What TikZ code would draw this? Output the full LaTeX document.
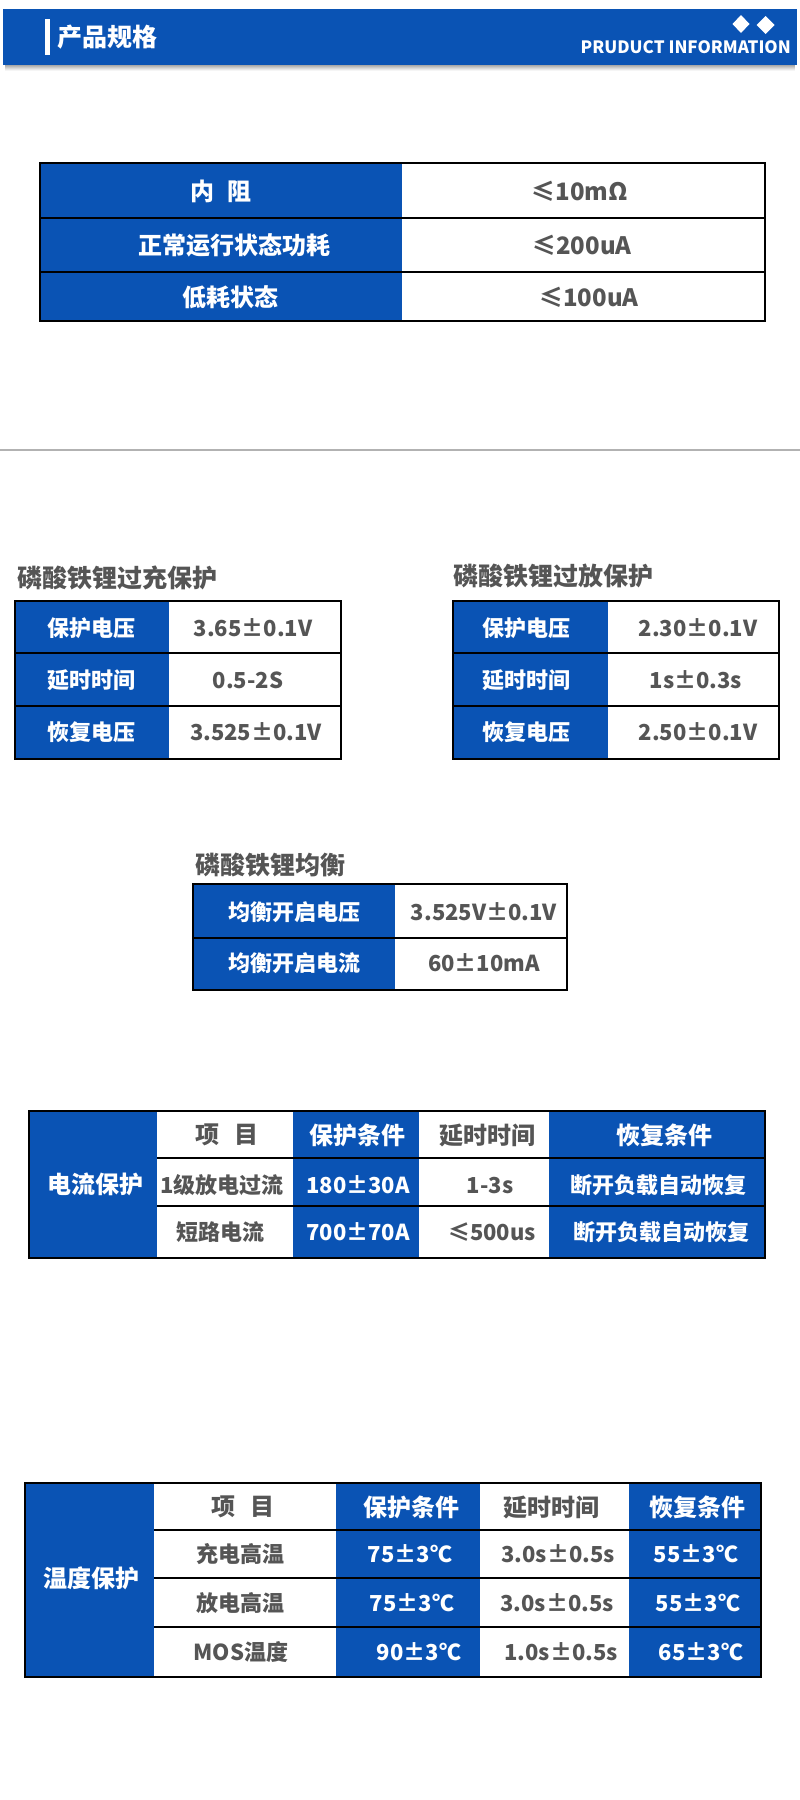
\documentclass[tikz,border=0pt]{standalone}
\usepackage{fontspec}
\setmainfont{Noto Sans CJK SC}
\definecolor{bl}{HTML}{0A53B4}
\definecolor{tg}{HTML}{555555}
\tikzset{
  wl/.style={font=\bfseries\fontsize{24}{24}\selectfont, text=white, inner sep=0pt},
  ws/.style={font=\bfseries\fontsize{22}{22}\selectfont, text=white, inner sep=0pt},
  gl/.style={font=\bfseries\fontsize{24}{24}\selectfont, text=tg, inner sep=0pt},
  gs/.style={font=\bfseries\fontsize{22}{22}\selectfont, text=tg, inner sep=0pt},
  sect/.style={font=\bfseries\fontsize{25}{25}\selectfont, text=tg, inner sep=0pt, anchor=west},
  border/.style={draw=black, line width=2.6pt},
  rule/.style={draw=black, line width=2.6pt},
}
\begin{document}
\begin{tikzpicture}[x=1pt,y=-1pt]
\useasboundingbox (0,0) rectangle (800,1800);
\fill[white] (0,0) rectangle (800,1800);

% ---------- header ----------
\foreach \i/\o in {0/0.34,1/0.28,2/0.21,3/0.15,4/0.09,5/0.04}
  \fill[black, opacity=\o] (5,{65+\i}) rectangle (795,{66+\i});
\fill[bl] (3,9) rectangle (797,65);
\fill[white] (45,19) rectangle (49.5,55);
\node[anchor=west, text=white, font=\bfseries\fontsize{25}{25}\selectfont, inner sep=0pt] (title) at (57,37) {产品规格};
\fill[white] (741,15) -- (749.5,24) -- (741,33) -- (732.5,24) -- cycle;
\fill[white] (765.5,16) -- (774.5,25) -- (765.5,34) -- (756.5,25) -- cycle;
\node[anchor=east, text=white, font=\bfseries\fontsize{17}{17}\selectfont, inner sep=0pt] (eng) at (791,47) {PRUDUCT INFORMATION};

% ---------- table 1 ----------
\fill[bl] (40,163) rectangle (402,321);
\draw[border] (40,163) rectangle (765,321);
\draw[rule] (40,218) -- (765,218);
\draw[rule] (40,272) -- (765,272);
\node[wl] (a1) at (221,191) {内\hspace{0.55em}阻};
\node[wl] (a2) at (234,245) {正常运行状态功耗};
\node[wl] (a3) at (230,297) {低耗状态};
\node[gl] (b1) at (580,191) {≤10mΩ};
\node[gl] (b2) at (582,245) {≤200uA};
\node[gl] (b3) at (589,297) {≤100uA};

% ---------- divider ----------
\draw[black!30, line width=1.2pt] (0,450) -- (800,450);

% ---------- over-charge ----------
\node[sect] (s1) at (17,578) {磷酸铁锂过充保护};
\fill[bl] (15,601) rectangle (169,759);
\draw[border] (15,601) rectangle (341,759);
\draw[rule] (15,653) -- (341,653);
\draw[rule] (15,706) -- (341,706);
\node[ws] (c1) at (91,628) {保护电压};
\node[ws] (c2) at (91,680) {延时时间};
\node[ws] (c3) at (91,732) {恢复电压};
\node[gs] (d1) at (253,628) {3.65±0.1V};
\node[gs] (d2) at (248,680) {0.5-2S};
\node[gs] (d3) at (256,732) {3.525±0.1V};

% ---------- over-discharge ----------
\node[sect] (s2) at (453,576) {磷酸铁锂过放保护};
\fill[bl] (453,601) rectangle (608,759);
\draw[border] (453,601) rectangle (779,759);
\draw[rule] (453,653) -- (779,653);
\draw[rule] (453,706) -- (779,706);
\node[ws] (e1) at (526,628) {保护电压};
\node[ws] (e2) at (526,680) {延时时间};
\node[ws] (e3) at (526,732) {恢复电压};
\node[gs] (f1) at (698,628) {2.30±0.1V};
\node[gs] (f2) at (696,680) {1s±0.3s};
\node[gs] (f3) at (698,732) {2.50±0.1V};

% ---------- balance ----------
\node[sect] (s3) at (195,865) {磷酸铁锂均衡};
\fill[bl] (193,884) rectangle (395,990);
\draw[border] (193,884) rectangle (567,990);
\draw[rule] (193,938) -- (567,938);
\node[ws] (g1) at (294,912) {均衡开启电压};
\node[ws] (g2) at (294,963) {均衡开启电流};
\node[gs] (h1) at (484,912) {3.525V±0.1V};
\node[gs] (h2) at (484,963) {60±10mA};

% ---------- current protection ----------
\fill[bl] (29,1111) rectangle (157,1258);
\fill[bl] (293,1111) rectangle (419,1258);
\fill[bl] (549,1111) rectangle (765,1258);
\draw[border] (29,1111) rectangle (765,1258);
\draw[rule] (157,1158) -- (765,1158);
\draw[rule] (157,1206) -- (765,1206);
\node[wl] (i0) at (95,1184) {电流保护};
\node[gl] (i1) at (227,1135) {项\hspace{0.6em}目};
\node[wl] (i2) at (357,1135) {保护条件};
\node[gl] (i3) at (487,1135) {延时时间};
\node[wl] (i4) at (664,1135) {恢复条件};
\node[gs] (j1) at (222,1185) {1级放电过流};
\node[ws] (j2) at (358,1185) {180±30A};
\node[gs] (j3) at (490,1185) {1-3s};
\node[ws] (j4) at (658,1185) {断开负载自动恢复};
\node[gs] (k1) at (220,1232) {短路电流};
\node[ws] (k2) at (358,1232) {700±70A};
\node[gs] (k3) at (492,1232) {≤500us};
\node[ws] (k4) at (661,1232) {断开负载自动恢复};

% ---------- temperature protection ----------
\fill[bl] (25,1483) rectangle (154,1677);
\fill[bl] (336,1483) rectangle (480,1677);
\fill[bl] (629,1483) rectangle (761,1677);
\draw[border] (25,1483) rectangle (761,1677);
\draw[rule] (154,1530) -- (761,1530);
\draw[rule] (154,1578) -- (761,1578);
\draw[rule] (154,1627) -- (761,1627);
\node[wl] (m0) at (91,1578) {温度保护};
\node[gl] (m1) at (243,1507) {项\hspace{0.6em}目};
\node[wl] (m2) at (411,1507) {保护条件};
\node[gl] (m3) at (551,1507) {延时时间};
\node[wl] (m4) at (697,1507) {恢复条件};
\node[gs] (n1) at (240,1554) {充电高温};
\node[ws] (n2) at (410,1554) {75±3℃};
\node[gs] (n3) at (558,1554) {3.0s±0.5s};
\node[ws] (n4) at (696,1554) {55±3℃};
\node[gs] (o1) at (240,1603) {放电高温};
\node[ws] (o2) at (412,1603) {75±3℃};
\node[gs] (o3) at (557,1603) {3.0s±0.5s};
\node[ws] (o4) at (698,1603) {55±3℃};
\node[gs] (p1) at (241,1652) {MOS温度};
\node[ws] (p2) at (419,1652) {90±3℃};
\node[gs] (p3) at (561,1652) {1.0s±0.5s};
\node[ws] (p4) at (701,1652) {65±3℃};
\end{tikzpicture}
\end{document}
